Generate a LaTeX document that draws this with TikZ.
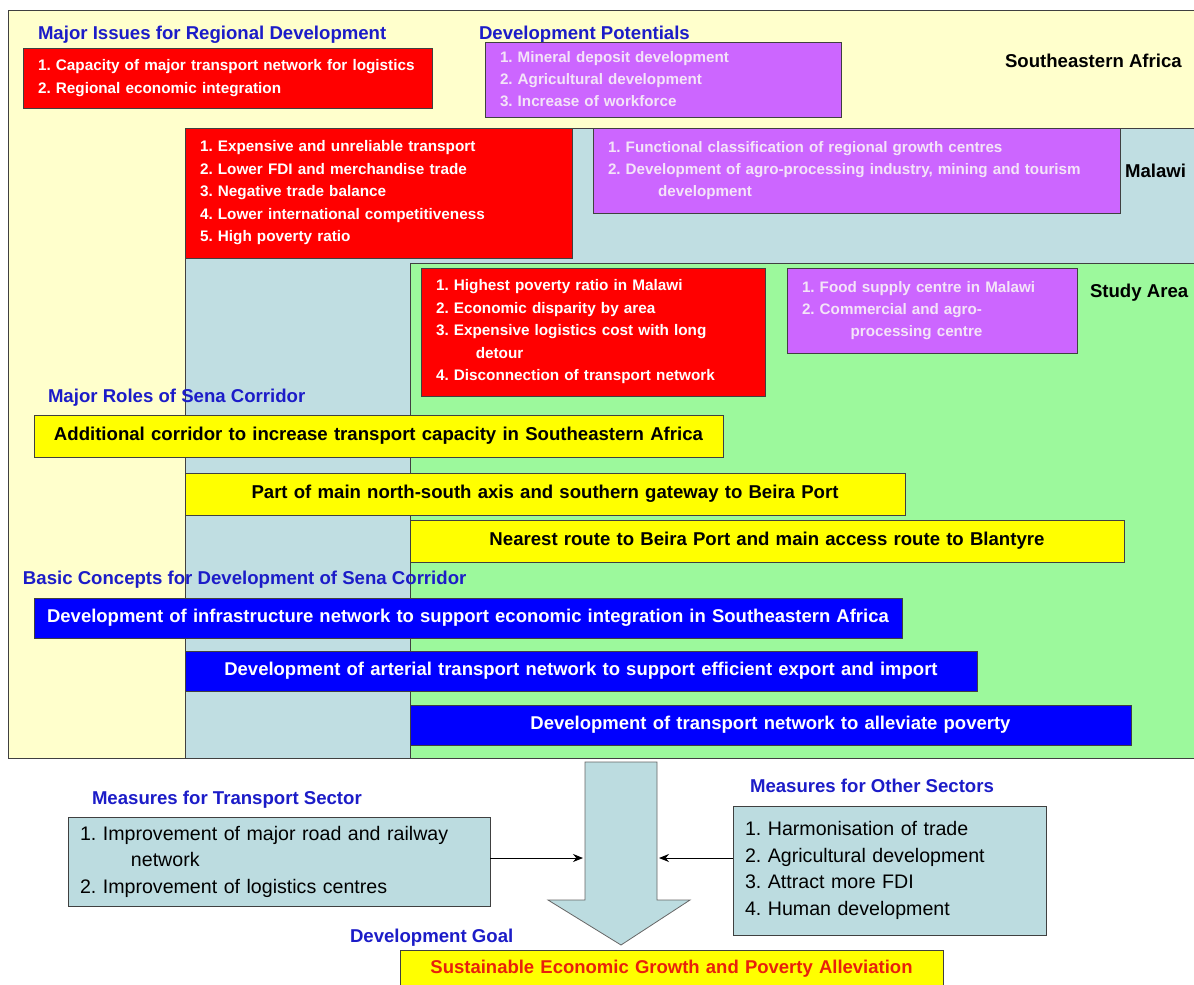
\documentclass[tikz,border=0pt]{standalone}
\usepackage{fontspec}
\setmainfont{Liberation Sans}
\usetikzlibrary{arrows.meta}
\frenchspacing
\definecolor{bgyellow}{HTML}{FFFFCC}
\definecolor{bgblue}{HTML}{C0DEE2}
\definecolor{bggreen}{HTML}{9CF99C}
\definecolor{issred}{HTML}{FF0000}
\definecolor{potpurple}{HTML}{CC66FF}
\definecolor{pottext}{HTML}{F4E4F8}
\definecolor{rolyellow}{HTML}{FFFF00}
\definecolor{conblue}{HTML}{0000FF}
\definecolor{hdblue}{HTML}{1C1CC8}
\definecolor{goalred}{HTML}{E8200C}
\definecolor{measblue}{HTML}{BCDCE0}
\definecolor{edge}{HTML}{404040}
\begin{document}
\begin{tikzpicture}[x=1pt,y=-1pt,
 every node/.style={inner sep=0pt, outer sep=0pt},
 area/.style={draw=edge, line width=0.8pt, anchor=north west},
 box/.style={draw=edge, line width=0.8pt, anchor=north west, align=left, inner xsep=15pt},
 issue/.style={box, fill=issred, text=white, font=\bfseries\fontsize{15.3}{22.5}\selectfont},
 potential/.style={box, fill=potpurple, text=pottext, font=\bfseries\fontsize{15.2}{22}\selectfont},
 role/.style={box, inner xsep=6pt, fill=rolyellow, text=black, align=center, font=\bfseries\fontsize{18.6}{21}\selectfont},
 concept/.style={box, inner xsep=6pt, fill=conblue, text=white, align=center, font=\bfseries\fontsize{18.5}{21}\selectfont},
 heading/.style={anchor=base west, text=hdblue, font=\bfseries\fontsize{18.6}{21}\selectfont},
 region/.style={anchor=base west, text=black, font=\bfseries\fontsize{18.6}{21}\selectfont},
 measure/.style={box, fill=measblue, text=black, inner xsep=12pt, font=\fontsize{19.6}{26.5}\selectfont},
 link/.style={-{Stealth[length=10pt,width=8pt]}, line width=1pt}
]
\useasboundingbox[fill=white] (0,0) rectangle (1194,985);
% nested areas
\node[area, fill=bgyellow, minimum width=1190pt, minimum height=748pt] (sea) at (8,10) {};
\node[area, fill=bgblue, minimum width=1013pt, minimum height=630pt] (mal) at (185,128) {};
\node[area, fill=bggreen, minimum width=788pt, minimum height=495pt] (stu) at (410,263) {};
% region labels
\node[region] (lsea) at (1005,67) {Southeastern Africa};
\node[region] (lmal) at (1125,177) {Malawi};
\node[region] (lstu) at (1090,297) {Study Area};
% headings
\node[heading] (hiss) at (38,39) {Major Issues for Regional Development};
\node[heading] (hpot) at (479,39) {Development Potentials};
\node[heading] (hrol) at (48,402) {Major Roles of Sena Corridor};
\node[heading] (hcon) at (23,584) {Basic Concepts for Development of Sena Corridor};
% issues
\node[issue, text width=379pt, minimum height=60pt] (iss1) at (23,48)
 {1. Capacity of major transport network for logistics\\2. Regional economic integration};
\node[issue, text width=357pt, minimum height=130pt] (iss2) at (185,128)
 {1. Expensive and unreliable transport\\2. Lower FDI and merchandise trade\\3. Negative trade balance\\4. Lower international competitiveness\\5. High poverty ratio};
\node[issue, text width=314pt, minimum height=128pt] (iss3) at (421,268)
 {1. Highest poverty ratio in Malawi\\2. Economic disparity by area\\3. Expensive logistics cost with long\\\hspace*{2.6em}detour\\4. Disconnection of transport network};
% potentials
\node[potential, text width=326pt, minimum height=75pt] (pot1) at (485,42)
 {1. Mineral deposit development\\2. Agricultural development\\3. Increase of workforce};
\node[potential, text width=497pt, minimum height=85pt] (pot2) at (593,128)
 {1. Functional classification of regional growth centres\\2. Development of agro-processing industry, mining and tourism\\\hspace*{3.3em}development};
\node[potential, text width=260pt, minimum height=85pt] (pot3) at (787,268)
 {1. Food supply centre in Malawi\\2. Commercial and agro-\\\hspace*{3.2em}processing centre};
% roles
\node[role, text width=677pt, minimum height=42pt] (rol1) at (34,415)
 {Additional corridor to increase transport capacity in Southeastern Africa};
\node[role, text width=708pt, minimum height=42pt] (rol2) at (185,473)
 {Part of main north-south axis and southern gateway to Beira Port};
\node[role, text width=702pt, minimum height=42pt] (rol3) at (410,520)
 {Nearest route to Beira Port and main access route to Blantyre};
% concepts
\node[concept, text width=856pt, minimum height=40pt] (con1) at (34,598)
 {Development of infrastructure network to support economic integration in Southeastern Africa};
\node[concept, text width=780pt, minimum height=40pt] (con2) at (185,651)
 {Development of arterial transport network to support efficient export and import};
\node[concept, text width=709pt, minimum height=40pt] (con3) at (410,705)
 {Development of transport network to alleviate poverty};
% big arrow
\draw[draw=edge!80, line width=0.8pt, fill=measblue] (585,762) -- (657,762) -- (657,900) -- (690,900) -- (621,945) -- (548,900) -- (585,900) -- cycle;
\node[coordinate] (shl) at (583,858) {};
\node[coordinate] (shr) at (659,858) {};
% measures
\node[heading] (hmt) at (92,804) {Measures for Transport Sector};
\node[heading] (hmo) at (750,792) {Measures for Other Sectors};
\node[measure, text width=398pt, minimum height=89pt] (mt) at (68,817)
 {1. Improvement of major road and railway\\\hspace*{2.6em}network\\2. Improvement of logistics centres};
\node[measure, text width=289pt, minimum height=129pt] (mo) at (733,806)
 {1. Harmonisation of trade\\2. Agricultural development\\3. Attract more FDI\\4. Human development};
\draw[link] (mt.east |- shl) -- (shl);
\draw[link] (mo.west |- shr) -- (shr);
% goal
\node[heading] (hgoal) at (350,942) {Development Goal};
\node[box, fill=rolyellow, text=goalred, align=center, text width=513pt, minimum height=38pt, font=\bfseries\fontsize{18.5}{21}\selectfont] (goal) at (400,950)
 {Sustainable Economic Growth and Poverty Alleviation};
\end{tikzpicture}
\end{document}
